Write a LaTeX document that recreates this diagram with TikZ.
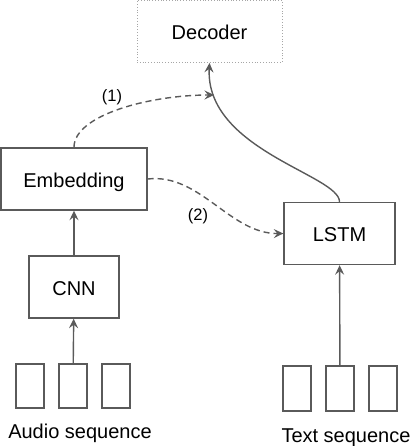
\documentclass[tikz,border=0pt]{standalone}
\usepackage{fontspec}
\setmainfont{Liberation Sans}
\usetikzlibrary{
  arrows.meta,
}
\definecolor{linegray}{HTML}{5A5A5A}

\begin{document}
\begin{tikzpicture}[x=1pt,y=-1pt]
\useasboundingbox (0,0) rectangle (410,446);

\tikzset{
  block/.style={
    draw=linegray, line width=1.4pt, minimum width=#1, minimum height=62pt,
    inner sep=0pt, text height=16pt, text depth=0pt,
    font=\fontsize{20}{22}\selectfont,
  },
  token/.style={
    draw=linegray, line width=1.3pt, minimum width=28pt, minimum height=44pt, inner sep=0pt,
  },
  arr/.style={
    draw=linegray, line width=1.4pt, -{Stealth[length=9.5pt,width=9pt,inset=3.5pt]},
  },
  skip/.style={
    arr, dash pattern=on 6pt off 4pt,
  },
  caption/.style={
    anchor=base, inner sep=0pt, font=\fontsize{20}{22}\selectfont,
  },
}

\node[block=145pt, draw=gray!70, line width=0.8pt, dotted] (dec) at (209.5,31.5) {Decoder};
\node[block=146pt] (emb) at (74,179) {Embedding};
\node[block=90pt] (cnn) at (74,287) {CNN};
\node[block=111pt] (lstm) at (339.5,233.5) {LSTM};

\foreach \k in {0,1,2} {
  \node[token] (a\k) at (30+43*\k,386) {};
  \node[token, minimum height=45pt] (t\k) at (297+43*\k,388.5) {};
}
\node[caption] (audio) at (80,438) {Audio sequence};
\node[caption] (text) at (346,442) {Text sequence};

\draw[arr] (a1) -- (cnn);
\draw[arr] (cnn) -- (emb);
\draw[arr] (t1) -- (lstm);
\draw[arr] (lstm.north) .. controls (339.5,175) and (205,150) .. (dec.south);

\coordinate (join) at (214,95);
\draw[skip] (emb.north) .. controls (74,115) and (150,95) .. (join);
\draw[skip] (emb.east) .. controls (200,173) and (230,234) .. (lstm.west);
\node[font=\fontsize{16.5}{18}\selectfont] (l1) at (112,97) {(1)};
\node[font=\fontsize{16.5}{18}\selectfont] (l2) at (198,216) {(2)};
\end{tikzpicture}
\end{document}
